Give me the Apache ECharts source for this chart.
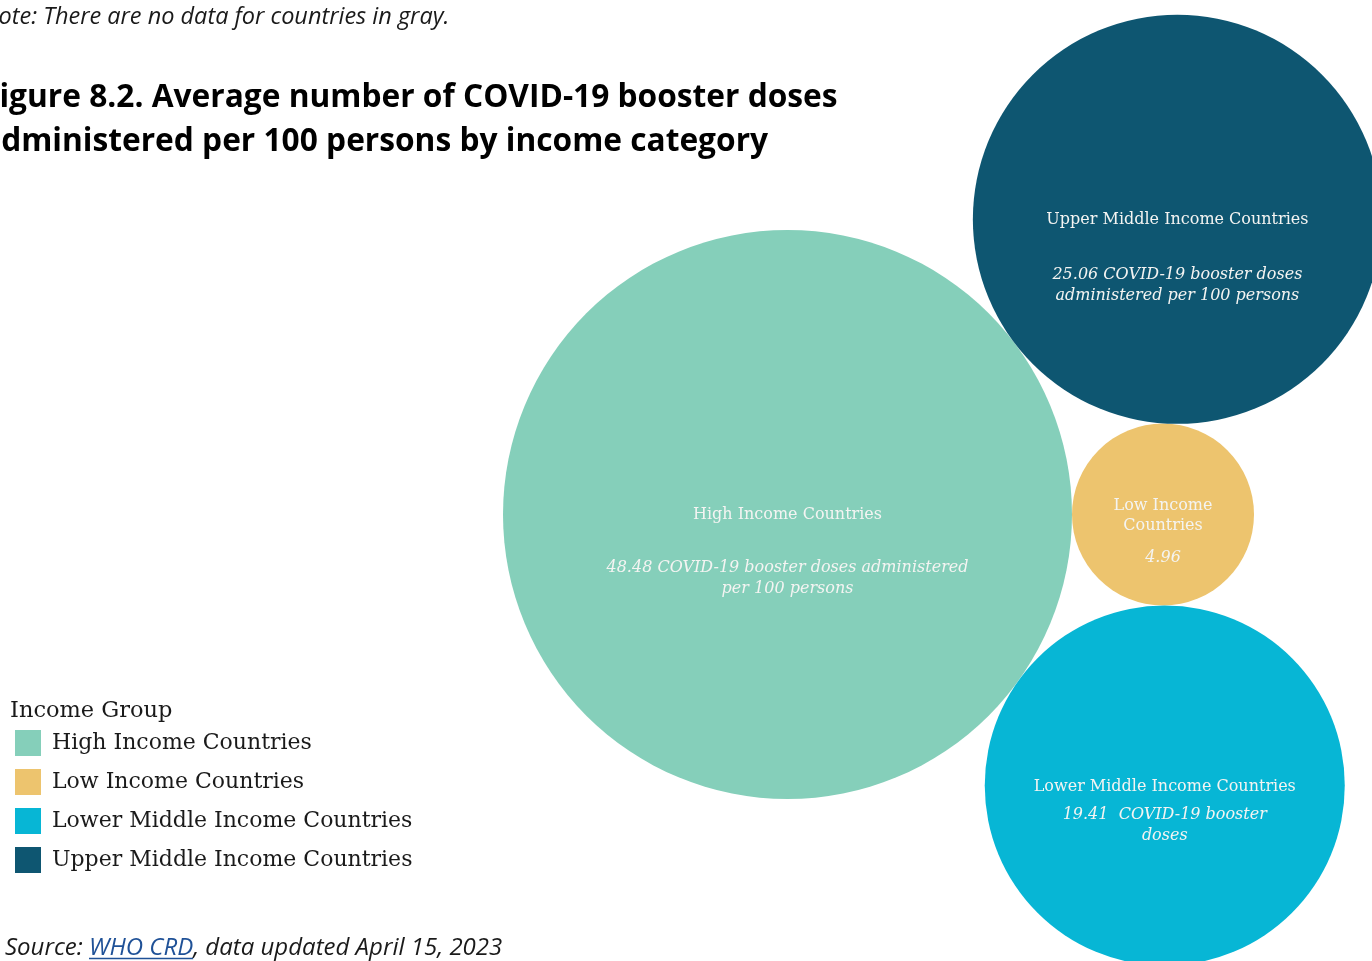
<!DOCTYPE html>
<html>
<head>
<meta charset="utf-8">
<script src="https://cdn.jsdelivr.net/npm/echarts@6/dist/echarts.min.js"></script>
<style>
  html, body { margin: 0; padding: 0; background: #ffffff; }
  #chart { width: 1372px; height: 961px; }
</style>
</head>
<body>
<div id="chart"></div>
<script>
// Income groups and their average booster doses per 100 persons
const categories = ['High Income Countries', 'Low Income Countries', 'Lower Middle Income Countries', 'Upper Middle Income Countries'];
const boosterDoses = [48.48, 4.96, 19.41, 25.06];
// Text shown inside each bubble
const bubbleNames = ['High Income Countries', 'Low Income\nCountries', 'Lower Middle Income Countries', 'Upper Middle Income Countries'];
const valueCaptions = ['COVID-19 booster doses administered\nper 100 persons', '', ' COVID-19 booster\ndoses', 'COVID-19 booster doses\nadministered per 100 persons'];
const colors = ['#85cfba', '#edc46e', '#07b6d5', '#0e5671'];

// ---- bubble layout (area proportional to value, circles packed by tangency) ----
const W = 1372, H = 961;
const RADIUS_SCALE = 40.86;            // px per sqrt(unit)
const ANCHOR = { x: 787.5, y: 514.5 }; // centre of the largest bubble
const radius = v => RADIUS_SCALE * Math.sqrt(v);

// circle of radius r touching both a and b; side = -1 above the a-b line, +1 below
function tangentTo(a, b, r, side) {
  const dA = a.r + r, dB = b.r + r;
  const dx = b.x - a.x, dy = b.y - a.y;
  const d = Math.hypot(dx, dy);
  const along = (dA * dA - dB * dB + d * d) / (2 * d);
  const h = Math.sqrt(Math.max(0, dA * dA - along * along));
  const ux = dx / d, uy = dy / d;
  return { x: a.x + ux * along - uy * h * side, y: a.y + uy * along + ux * h * side, r };
}

const iHigh = 0, iLow = 1, iLowerMid = 2, iUpperMid = 3;
const pos = [];
pos[iHigh] = { x: ANCHOR.x, y: ANCHOR.y, r: radius(boosterDoses[iHigh]) };
pos[iLow] = { x: ANCHOR.x + pos[iHigh].r + radius(boosterDoses[iLow]), y: ANCHOR.y, r: radius(boosterDoses[iLow]) };
pos[iUpperMid] = tangentTo(pos[iHigh], pos[iLow], radius(boosterDoses[iUpperMid]), -1);
pos[iLowerMid] = tangentTo(pos[iHigh], pos[iLow], radius(boosterDoses[iLowerMid]), 1);

// label block tuning per bubble: gap between name and value, vertical shift of name line
const labelGap = [32.5, 11.5, 7.5, 34.5];
const nameShift = [0, -9, 1.5, 0.5];

const labelColor = '#f4f4f2';
const serif = '"DejaVu Serif", Georgia, serif';

const series = categories.map((name, i) => ({
  name,
  type: 'scatter',
  symbol: 'circle',
  symbolSize: radius(boosterDoses[i]) * 2,
  itemStyle: { color: colors[i], opacity: 1 },
  emphasis: { disabled: true },
  silent: true,
  data: [[pos[i].x, pos[i].y, boosterDoses[i]]],
  label: {
    show: true,
    position: ['50%', '50%'],
    align: 'center',
    verticalAlign: 'top',
    offset: [0, nameShift[i] - 10],
    formatter: p => {
      const v = p.value[2].toFixed(2);
      const nameLines = bubbleNames[i].split('\n').map(s => '{n|' + s + '}').join('\n');
      const valueLines = (v + (valueCaptions[i] ? ' ' + valueCaptions[i] : '')).split('\n').map(s => '{v|' + s + '}').join('\n');
      return nameLines + '\n{g| }\n' + valueLines;
    },
    rich: {
      n: { fontFamily: serif, fontSize: 16, lineHeight: 20, color: labelColor, align: 'center' },
      g: { fontSize: 1, lineHeight: labelGap[i] },
      v: { fontFamily: serif, fontStyle: 'italic', fontSize: 16, lineHeight: 21, color: labelColor, align: 'center' }
    }
  }
}));

// underline for the source link
const srcFontSize = 24;
const srcFont = 'italic ' + srcFontSize + 'px "Open Sans"';
const ctx = document.createElement('canvas').getContext('2d');
ctx.font = srcFont;
const srcLeft = 5;
const linkX0 = srcLeft + ctx.measureText('Source: ').width;
const linkX1 = linkX0 + ctx.measureText('WHO CRD').width;

const chart = echarts.init(document.getElementById('chart'), null, { renderer: 'canvas' });
chart.setOption({
  backgroundColor: '#ffffff',
  animation: false,
  color: colors,
  grid: { left: 0, top: 0, width: W, height: H, containLabel: false },
  xAxis: { type: 'value', min: 0, max: W, show: false },
  yAxis: { type: 'value', min: 0, max: H, inverse: true, show: false },
  title: [
    {
      text: 'Note: There are no data for countries in gray.',
      left: -18, top: 2, padding: 0,
      textStyle: { fontFamily: '"Open Sans"', fontStyle: 'italic', fontWeight: 'normal', fontSize: 23.5, lineHeight: 30, color: '#1a1a1a' }
    },
    {
      text: 'Figure 8.2. Average number of COVID-19 booster doses\nadministered per 100 persons by income category',
      left: -18, top: 76, padding: 0,
      textStyle: { fontFamily: '"Open Sans"', fontWeight: 'bold', fontSize: 31.7, lineHeight: 44, color: '#000000' }
    },
    {
      text: 'Income Group',
      left: 10, top: 697, padding: 0,
      textStyle: { fontFamily: serif, fontWeight: 'normal', fontSize: 22.5, lineHeight: 28, color: '#1a1a1a' }
    },
    {
      text: '{i|Source: }{a|WHO CRD}{i|, data updated April 15, 2023}',
      left: srcLeft, top: 933, padding: 0,
      textStyle: {
        fontWeight: 'normal',
        rich: {
          i: { fontFamily: '"Open Sans"', fontStyle: 'italic', fontWeight: 'normal', fontSize: srcFontSize, lineHeight: 30, color: '#1a1a1a' },
          a: { fontFamily: '"Open Sans"', fontStyle: 'italic', fontWeight: 'normal', fontSize: srcFontSize, lineHeight: 30, color: '#1f5197' }
        }
      }
    }
  ],
  legend: {
    data: categories,
    orient: 'vertical',
    left: 15, top: 730, padding: 0,
    icon: 'rect',
    itemWidth: 26, itemHeight: 26, itemGap: 13,
    selectedMode: false,
    textStyle: { fontFamily: serif, fontSize: 22, color: '#1a1a1a', padding: [0, 0, 0, 6] }
  },
  graphic: [{
    type: 'line',
    shape: { x1: linkX0, y1: 958.5, x2: linkX1, y2: 958.5 },
    style: { stroke: '#1f5197', lineWidth: 1.5 },
    silent: true
  }],
  series
});
</script>
</body>
</html>
